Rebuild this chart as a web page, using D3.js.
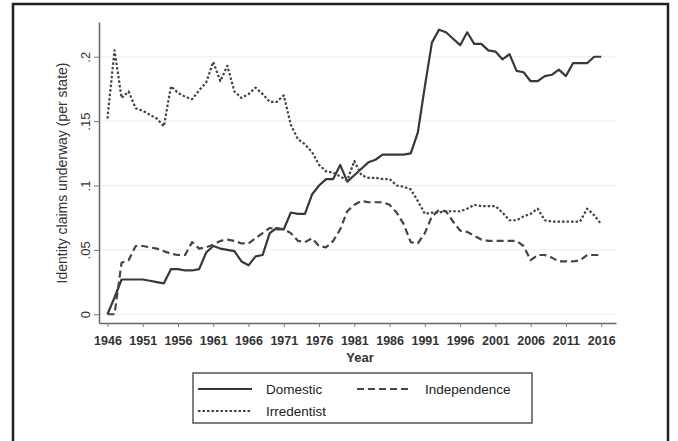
<!DOCTYPE html>
<html><head><meta charset="utf-8">
<script src="https://cdn.jsdelivr.net/npm/d3@7"></script>
<style>
html,body{margin:0;padding:0;background:#fff;}
svg{display:block;font-family:"Liberation Sans",Arial,sans-serif;}
</style></head>
<body>
<svg id="c" width="678" height="441"></svg>
<script>
const years = [1946,1947,1948,1949,1950,1951,1952,1953,1954,1955,1956,1957,1958,1959,1960,
1961,1962,1963,1964,1965,1966,1967,1968,1969,1970,1971,1972,1973,1974,1975,1976,1977,1978,1979,1980,
1981,1982,1983,1984,1985,1986,1987,1988,1989,1990,1991,1992,1993,1994,1995,1996,1997,1998,1999,2000,
2001,2002,2003,2004,2005,2006,2007,2008,2009,2010,2011,2012,2013,2014,2015,2016];
const domestic = [0,0.013,0.027,0.027,0.027,0.027,0.026,0.025,0.024,0.035,0.035,0.034,0.034,0.035,0.048,
0.053,0.051,0.050,0.049,0.041,0.038,0.045,0.046,0.063,0.067,0.066,0.079,0.078,0.078,0.093,0.100,0.105,0.105,0.116,0.103,
0.108,0.113,0.118,0.120,0.124,0.124,0.124,0.124,0.125,0.141,0.177,0.211,0.221,0.219,0.214,0.209,0.219,0.210,0.210,0.205,
0.204,0.198,0.202,0.189,0.188,0.181,0.181,0.185,0.186,0.190,0.185,0.195,0.195,0.195,0.200,0.200];
const independence = [0,0,0.040,0.042,0.053,0.053,0.052,0.051,0.049,0.047,0.046,0.046,0.056,0.051,0.052,
0.054,0.057,0.058,0.057,0.055,0.055,0.059,0.063,0.067,0.066,0.066,0.063,0.057,0.056,0.059,0.053,0.052,0.057,0.066,0.080,
0.085,0.088,0.087,0.087,0.087,0.085,0.079,0.070,0.056,0.055,0.063,0.076,0.081,0.080,0.072,0.065,0.064,0.061,0.058,0.057,
0.057,0.057,0.057,0.057,0.053,0.042,0.046,0.046,0.044,0.041,0.041,0.041,0.042,0.046,0.046,0.046];
const irredentist = [0.152,0.205,0.168,0.173,0.160,0.158,0.155,0.152,0.146,0.177,0.172,0.169,0.167,0.174,0.180,
0.196,0.181,0.193,0.173,0.168,0.171,0.176,0.171,0.165,0.165,0.170,0.147,0.136,0.132,0.126,0.116,0.111,0.110,0.107,0.104,
0.119,0.108,0.106,0.106,0.105,0.105,0.100,0.099,0.097,0.088,0.078,0.079,0.079,0.080,0.080,0.080,0.082,0.085,0.084,0.084,
0.084,0.079,0.073,0.073,0.076,0.078,0.082,0.073,0.072,0.072,0.072,0.072,0.072,0.082,0.077,0.070];
const xTicks = [1946,1951,1956,1961,1966,1971,1976,1981,1986,1991,1996,2001,2006,2011,2016];
const yTicks = [0,0.05,0.1,0.15,0.2];
const yTickLabels = ["0",".05",".1",".15",".2"];
const seriesNames = ["Domestic","Independence","Irredentist"];

const svg = d3.select("#c");
// outer frame
svg.append("rect").attr("x",13).attr("y",4).attr("width",655).attr("height",450)
  .attr("fill","none").attr("stroke","#222").attr("stroke-width",2.5);

const x = d3.scaleLinear().domain([1944.8,2018.1]).range([99,616]);
const y = d3.scaleLinear().domain([-0.0068,0.227]).range([323,22]);

// gridlines
svg.append("g").selectAll("line").data(yTicks).join("line")
  .attr("x1",99).attr("x2",616).attr("y1",d=>y(d)).attr("y2",d=>y(d))
  .attr("stroke","#ececec").attr("stroke-width",1);

// x axis
const gx = svg.append("g").attr("transform","translate(0,323)")
  .call(d3.axisBottom(x).tickValues(xTicks).tickFormat(d3.format("d")).tickSize(4).tickSizeOuter(0));
gx.select(".domain").attr("stroke","#666").attr("stroke-width",1.5);
gx.selectAll(".tick line").attr("stroke","#777");
gx.selectAll("text").attr("y",0).attr("dy","22px").attr("font-size","12.5px").attr("fill","#333")
  .attr("font-weight","bold").attr("font-family","'Liberation Sans',Arial,sans-serif");

// y axis
const gy = svg.append("g").attr("transform","translate(99,0)")
  .call(d3.axisLeft(y).tickValues(yTicks).tickFormat((d,i)=>yTickLabels[i]).tickSize(5).tickSizeOuter(0));
gy.select(".domain").attr("stroke","#666").attr("stroke-width",1.5);
gy.selectAll(".tick line").attr("stroke","#777");
gy.selectAll("text").attr("x",0).attr("dy",0).attr("text-anchor","middle")
  .attr("transform","translate(-9,0) rotate(-90)").attr("font-size","13px").attr("fill","#333")
  .attr("font-family","'Liberation Sans',Arial,sans-serif");

// axis titles
svg.append("text").attr("transform","translate(67,173) rotate(-90)").attr("text-anchor","middle")
  .attr("font-size","14px").attr("fill","#333").text("Identity claims underway (per state)");
svg.append("text").attr("x",360).attr("y",362).attr("text-anchor","middle")
  .attr("font-size","13px").attr("font-weight","bold").attr("fill","#333").text("Year");

const styles = [
  {vals:domestic, dash:null, color:"#383838"},
  {vals:independence, dash:"7,4", color:"#444"},
  {vals:irredentist, dash:"2.5,2", color:"#444"}
];
const line = d3.line().x((d,i)=>x(years[i])).y(d=>y(d));
styles.forEach(s=>{
  svg.append("path").datum(s.vals).attr("d",line).attr("fill","none")
    .attr("stroke",s.color).attr("stroke-width",2.2).attr("stroke-dasharray",s.dash)
    .attr("stroke-linejoin","round");
});

// legend
const lg = svg.append("g");
lg.append("rect").attr("x",193).attr("y",373).attr("width",339).attr("height",50)
  .attr("fill","#fff").attr("stroke","#555").attr("stroke-width",1.5);
const legendPos = [{x:198,y:389},{x:357,y:389},{x:198,y:411}];
seriesNames.forEach((n,i)=>{
  const p = legendPos[i];
  lg.append("line").attr("x1",p.x).attr("x2",p.x+54).attr("y1",p.y).attr("y2",p.y)
    .attr("stroke",styles[i].color).attr("stroke-width",i===0?2:1.8).attr("stroke-dasharray",styles[i].dash);
  lg.append("text").attr("x",p.x+68).attr("y",p.y+5).attr("font-size","13.5px").attr("fill","#222").text(n);
});
</script>
</body></html>
